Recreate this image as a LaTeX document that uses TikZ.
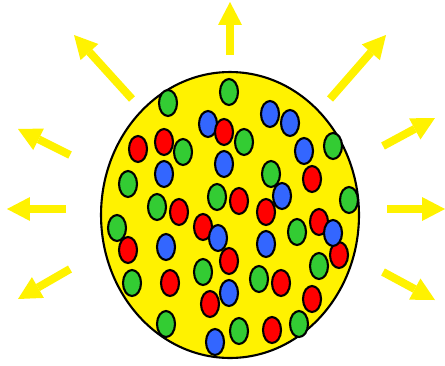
\documentclass[tikz,border=0pt]{standalone}
\usepackage{xcolor}
\usepackage{tikz}
\usetikzlibrary{shapes.geometric, arrows.meta}

\definecolor{ballgreen}{RGB}{51,204,51}
\definecolor{ballred}{RGB}{255,0,0}
\definecolor{ballblue}{RGB}{51,102,255}

\begin{document}
\begin{tikzpicture}[
    x=0.02cm, y=-0.02cm,
    % ── Sun body ─────────────────────────────────────────────────────
    sun/.style={
        draw, ellipse, fill=yellow, line width=1.2pt,
        minimum width=5.16cm, minimum height=5.72cm, inner sep=0pt
    },
    % ── Coloured particles ───────────────────────────────────────────
    ball/.style={
        draw, ellipse, line width=1.2pt,
        minimum width=0.36cm, minimum height=0.52cm, inner sep=0pt
    },
    % ── Rays: thick yellow arrows ────────────────────────────────────
    ray/.style={draw=yellow, line width=0.16cm,
        -{Triangle[length=0.46cm, width=0.48cm, line width=0pt]}}
]
    \useasboundingbox (0,0) rectangle (445,365);

% ══════════════════════════════════════════════════════════════════════
% RAYS
% ══════════════════════════════════════════════════════════════════════
    \foreach \sx/\sy/\tx/\ty in {230/55/230/2, 132/99/74/35, 330/99/386/35,
        70/155/18/129, 66/209/7/209, 70/269/18/299,
        383/146/435/118, 387/209/445/209, 383/272/435/300}
        \draw[ray] (\sx,\sy) -- (\tx,\ty);

% ══════════════════════════════════════════════════════════════════════
% SUN AND PARTICLES
% ══════════════════════════════════════════════════════════════════════
    \node[sun] (sun) at (230,215) {};

    \foreach \bx/\by/\bc [count=\i] in {
        % green
        229/92/ballgreen, 168/103/ballgreen, 183/152/ballgreen,
        244/142/ballgreen, 333/146/ballgreen, 128/184/ballgreen,
        271/174/ballgreen, 217/197/ballgreen, 157/207/ballgreen,
        349/200/ballgreen, 117/228/ballgreen, 297/232/ballgreen,
        203/272/ballgreen, 319/266/ballgreen, 259/279/ballgreen,
        132/283/ballgreen, 166/324/ballgreen, 239/331/ballgreen,
        299/324/ballgreen,
        % blue behind red
        208/124/ballblue,
        % red
        224/132/ballred, 138/149/ballred, 164/142/ballred,
        312/179/ballred, 239/201/ballred, 179/212/ballred,
        266/212/ballred, 203/227/ballred, 319/222/ballred,
        128/250/ballred, 229/261/ballred, 339/255/ballred,
        170/283/ballred, 281/283/ballred, 210/304/ballred,
        312/299/ballred, 272/330/ballred,
        % blue
        270/114/ballblue, 290/123/ballblue, 304/151/ballblue,
        164/174/ballblue, 224/164/ballblue, 282/196/ballblue,
        218/238/ballblue, 166/247/ballblue, 266/244/ballblue,
        333/233/ballblue, 229/293/ballblue, 215/342/ballblue}
        \node[ball, fill=\bc] (b\i) at (\bx,\by) {};

\end{tikzpicture}
\end{document}
